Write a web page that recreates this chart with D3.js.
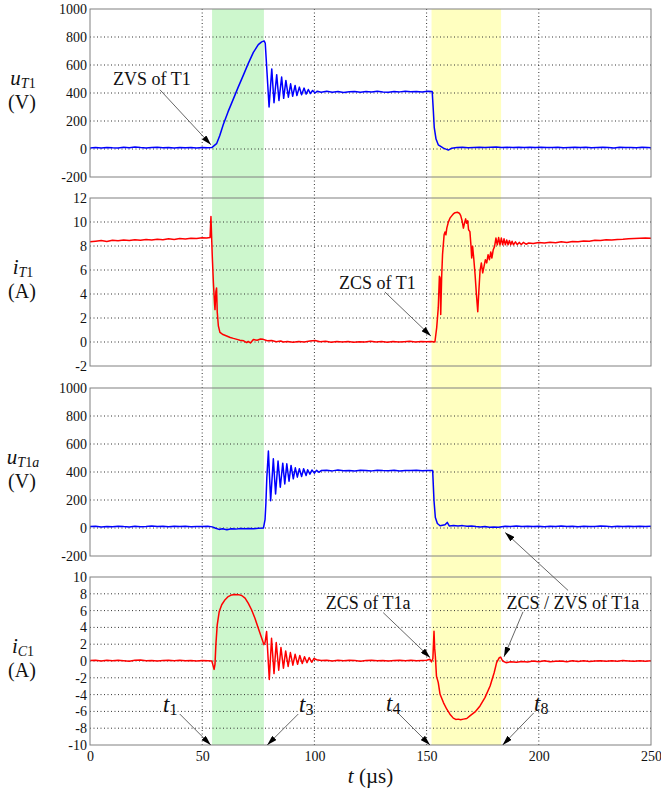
<!DOCTYPE html>
<html>
<head>
<meta charset="utf-8">
<script src="https://cdn.jsdelivr.net/npm/d3@7"></script>
<style>
  body { margin: 0; background: #fff; }
  svg text { font-family: "Liberation Serif", "Times New Roman", Times, "DejaVu Serif", serif; fill: #111; }
</style>
</head>
<body>
<svg id="chart" width="661" height="795" font-family="Liberation Serif, Times New Roman, serif"></svg>
<script>
// ---- tick labels ----
const timeTicks = [0, 50, 100, 150, 200, 250];
const voltTicks = [-200, 0, 200, 400, 600, 800, 1000];
const iT1Ticks = [-2, 0, 2, 4, 6, 8, 10, 12];
const iC1Ticks = [-10, -8, -6, -4, -2, 0, 2, 4, 6, 8, 10];

// ---- switching intervals (µs) ----
const greenBand = [54.4, 77.5];   // t1 .. t3
const yellowBand = [152.2, 183.2]; // t4 .. t8

// ---- measured traces: [t (µs), value] ----
const uT1 = [
  [0,8],[2.5,10],[5,7],[7.5,11],[10,9],[12.5,8],[15,12],[17.5,9],[20,14],[22.5,10],[25,8],[27.5,11],
  [30,12],[32.5,9],[35,10],[37.5,8],[40,11],[42.5,9],[45,10],[47.5,8],[50,11],[52.5,9],[54.3,10],
  [55.2,22],[56.4,38],[57.8,95],[59.4,175],[61.5,265],[63.9,358],[66,440],[68.3,526],[70.5,610],
  [72.8,690],[75,745],[76.5,765],[77.6,772],[78.1,755],
  [79.8,300],[81.0,572],[82.0,330],[83.2,531],[84.2,346],[85.4,514],[86.3,362],[87.3,490],[88.4,370],
  [89.4,466],[90.3,377],[91.4,454],[92.2,382],[93.3,442],[94.3,387],[95.4,435],[96.3,392],[97.3,425],
  [98.2,396],[99.2,418],[100.3,400],[101.3,413],
  [103,406],[105.5,412],[108,406],[110.5,410],[113,404],[115.5,409],[118,411],[120.5,406],[123,410],
  [125.5,407],[128,412],[130.5,408],[133,406],[135.5,410],[138,408],[140.5,413],[143,409],[145.5,411],
  [148,408],[150.5,412],[152.5,410],
  [153.0,275],[153.4,155],[154.2,71],[155.2,30],[157.5,6],[159.7,-8],[161.2,6],[163.5,10],[166,12],
  [168.5,9],[171,11],[173.5,13],[176,10],[178.5,12],[181,14],[183.5,11],[186,12],[188.5,10],[191,13],
  [193.5,11],[196,12],[198.5,10],[201,13],[203.5,11],[206,10],[208.5,12],[211,9],[213.5,11],[216,12],
  [218.5,10],[221,13],[223.5,9],[226,11],[228.5,12],[231,10],[233.5,8],[236,12],[238.5,10],[241,11],
  [243.5,9],[246,12],[248.5,10],[250,9]
];

const iT1 = [
  [0,8.35],[2.5,8.4],[5,8.45],[7.5,8.38],[10,8.48],[12.5,8.44],[15,8.5],[17.5,8.46],[20,8.52],[22.5,8.48],
  [25,8.55],[27.5,8.5],[30,8.56],[32.5,8.52],[35,8.6],[37.5,8.55],[40,8.62],[42.5,8.58],[45,8.65],
  [47.5,8.62],[50,8.68],[52,8.66],[53.5,8.7],
  [53.9,10.45],[54.5,7.1],[55.0,4.9],[55.5,3.2],[55.7,2.7],[56.1,4.2],[56.4,4.5],[56.7,2.5],[57.2,1.35],
  [57.9,0.8],[59,0.65],[60.9,0.5],[62.5,0.38],[63.9,0.3],[65.5,0.22],[66.8,0.15],[68.5,0.1],[69.8,-0.05],
  [70.5,0.05],[71.5,-0.08],[72.8,0.2],[74.5,0.15],[76,0.25],[77.2,0.22],[79,0.1],[81,0.12],[83,0.02],
  [85,0.08],[86.1,0.0],[88,0.05],[90.5,-0.02],[93,0.05],[95.5,0.0],[98,0.08],[100.3,0.12],[102.5,0.02],
  [105,0.06],[107.5,-0.02],[110,0.04],[112.5,0.0],[115,0.05],[117.5,-0.03],[120,0.03],[122.5,0.0],
  [125,0.06],[127.5,0.01],[130,0.04],[132.5,-0.02],[135,0.05],[137.5,0.0],[140,0.03],[142.5,0.06],
  [145,0.01],[147.5,0.04],[150,0.02],[152,0.05],[153.7,0.0],
  [154.5,1.2],[155.2,2.86],[155.7,5.48],[156.0,5.35],[156.3,2.3],[156.7,5.35],[157.1,7.28],[157.8,8.93],
  [158.2,9.16],[158.6,8.93],[159.0,9.49],[159.7,9.99],[160.4,10.32],[161.2,10.51],[161.9,10.67],
  [162.7,10.78],[163.7,10.81],[164.6,10.73],[165.2,10.53],[165.9,10.04],[166.4,9.49],[166.8,9.82],
  [167.4,10.26],[167.8,9.9],[168.3,10.1],[168.7,9.35],[169.3,9.2],[169.8,7.97],[170.1,7.0],[170.5,7.97],
  [171.0,7.0],[171.6,5.62],[172.2,3.96],[172.8,2.53],[173.2,3.96],[173.8,5.9],[174.4,6.59],[175.0,5.76],
  [175.6,6.31],[176.2,6.86],[176.8,6.59],[177.4,7.28],[178.0,6.86],[178.6,7.5],[179.1,7.0],[179.7,7.69],
  [180.3,7.97],[180.9,8.66],[181.5,8.1],[182.1,8.7],[182.7,8.1],[183.3,8.66],[183.9,8.1],[184.5,8.6],
  [185.1,8.1],[185.7,8.5],[186.3,8.1],[186.9,8.45],[187.5,8.1],[188.1,8.4],[188.7,8.1],[189.6,8.35],
  [190.4,8.12],[191.3,8.3],[192.2,8.12],[193.1,8.3],[194.3,8.15],[195.5,8.25],
  [197.5,8.2],[200,8.3],[202.5,8.25],[205,8.32],[207.5,8.28],[210,8.35],[212.5,8.3],[215,8.38],
  [217.5,8.35],[220,8.42],[222.5,8.4],[225,8.48],[227.5,8.46],[230,8.52],[232.5,8.5],[235,8.55],
  [237.5,8.56],[240,8.6],[242.5,8.62],[245,8.64],[247.5,8.66],[250,8.64]
];

const uT1a = [
  [0,10],[2.5,12],[5,8],[7.5,11],[10,9],[12.5,13],[15,10],[17.5,8],[20,12],[22.5,9],[25,11],[27.5,14],
  [30,10],[32.5,12],[35,9],[37.5,13],[40,10],[42.5,12],[45,9],[47.5,11],[50,10],[52.5,12],[54.5,8],
  [56,-2],[57.5,-10],[59,-5],[61,-12],[63,-6],[65,-8],[67,-4],[69,-6],[71,-3],[73,-5],[75,-1],[77.3,0],
  [78.0,60],[78.4,180],[78.8,360],[79.5,550],[80.5,195],[81.7,495],[82.7,243],[83.8,478],[84.8,291],
  [85.9,463],[86.8,315],[87.7,459],[88.7,334],[89.6,447],[90.6,351],[91.5,430],[92.4,363],[93.3,423],
  [94.3,368],[95.2,423],[96.3,375],[97.0,416],[98.0,385],[98.9,414],[100.0,392],[101.0,412],[102.0,398],
  [103,410],[105.5,412],[108,408],[110.5,414],[113,409],[115.5,411],[118,407],[120.5,412],[123,410],
  [125.5,408],[128,413],[130.5,410],[133,409],[135.5,412],[138,408],[140.5,411],[143,410],[145.5,413],
  [148,409],[150.5,411],[152.7,410],
  [153.3,195],[153.9,75],[154.8,32],[156,16],[158.2,23],[159.2,40],[160.1,15],[162,18],[164,14],[166,17],
  [168,12],[170,15],[172,10],[174,8],[176,11],[178,6],[180,7],[182,5],[183.5,9],[185,12],[187.5,10],
  [190,14],[192.5,11],[195,13],[197.5,10],[200,12],[202.5,9],[205,13],[207.5,11],[210,14],[212.5,10],
  [215,12],[217.5,9],[220,13],[222.5,11],[225,10],[227.5,14],[230,12],[232.5,9],[235,13],[237.5,11],
  [240,12],[242.5,10],[245,13],[247.5,11],[250,12]
];

const iC1 = [
  [0,0.05],[2.5,0.1],[5,0.0],[7.5,0.08],[10,0.02],[12.5,0.1],[15,0.04],[17.5,-0.02],[20,0.08],[22.5,0.12],
  [25,0.03],[27.5,0.06],[30,0.0],[32.5,0.05],[35,0.1],[37.5,0.04],[40,0.08],[42.5,0.02],[45,0.06],
  [47.5,0.0],[50,0.05],[52.5,0.03],[54.3,0.0],
  [54.7,-0.4],[55.3,-1.0],[55.7,-0.4],[56.1,1.95],[56.7,4.3],[57.6,5.9],[58.7,6.7],[60.2,7.3],
  [61.6,7.67],[63.1,7.87],[64.6,7.93],[66.1,7.9],[67.6,7.8],[69.1,7.48],[70.5,6.88],[72.0,6.1],
  [73.5,5.1],[75.0,3.9],[76.5,2.75],[77.5,1.95],[78.0,2.2],
  [78.7,3.5],[79.9,-2.2],[80.9,2.7],[82.0,-1.5],[83.0,2.2],[84.1,-1.1],[85.1,1.6],[86.2,-0.85],
  [87.2,1.2],[88.3,-0.65],[89.3,1.0],[90.4,-0.5],[91.4,0.8],[92.5,-0.4],[93.5,0.65],[94.6,-0.3],
  [95.6,0.5],[96.7,-0.2],[97.7,0.4],[98.8,-0.15],[99.8,0.3],
  [101,0.15],[103,0.05],[105.5,0.1],[108,0.0],[110.5,0.08],[113,0.03],[115.5,0.1],[118,0.05],[120.5,-0.02],
  [123,0.06],[125.5,0.1],[128,0.02],[130.5,0.07],[133,0.0],[135.5,0.05],[138,0.1],[140.5,0.04],[143,0.08],
  [145.5,0.02],[148,0.06],[150,0.1],[151.5,0.2],[152.2,-0.1],[152.8,0.3],
  [153.3,3.53],[153.6,1.5],[153.9,0.57],[154.4,-1.8],[155.2,-2.58],[156.0,-3.96],[157.5,-4.95],
  [159.0,-5.74],[160.4,-6.33],[161.9,-6.8],[163,-6.95],[164.1,-6.92],[165.2,-7.0],[166.4,-6.92],
  [167.9,-6.84],[169.3,-6.53],[171.6,-6.06],[173.8,-5.35],[176.0,-4.36],[178.3,-2.98],[180.1,-1.4],
  [181.2,-0.2],[182.4,0.39],[183.0,0.47],[183.9,0.0],[185.4,-0.2],[187.5,-0.1],[190,-0.15],[192.5,-0.05],
  [195,-0.12],[197.5,0.0],[200,-0.08],[202.5,0.02],[205,-0.1],[207.5,-0.03],[210,0.0],[212.5,-0.08],
  [215,0.02],[217.5,-0.05],[220,0.03],[222.5,-0.06],[225,0.0],[227.5,0.04],[230,-0.04],[232.5,0.02],
  [235,-0.02],[237.5,0.05],[240,0.0],[242.5,-0.04],[245,0.03],[247.5,-0.02],[250,0.02]
];

// ---- panel layout ----
const plotLeft = 90, plotRight = 651;
const panelTop = [9, 198, 388, 577];
const panelH = 168;
const BLUE = "#0000ff", RED = "#ff0000";
const SERIF = "Liberation Serif, Times New Roman, serif";

const panels = [
  { data: uT1,  domain: [-200, 1000], ticks: voltTicks, color: BLUE,
    name: [["u", true, false], ["T", true, true], ["1", false, true]], unit: "(V)" },
  { data: iT1,  domain: [-2, 12],     ticks: iT1Ticks,  color: RED,
    name: [["i", true, false], ["T", true, true], ["1", false, true]], unit: "(A)" },
  { data: uT1a, domain: [-200, 1000], ticks: voltTicks, color: BLUE,
    name: [["u", true, false], ["T", true, true], ["1", false, true], ["a", true, true]], unit: "(V)" },
  { data: iC1,  domain: [-10, 10],    ticks: iC1Ticks,  color: RED,
    name: [["i", true, false], ["C", true, true], ["1", false, true]], unit: "(A)" }
];

const svg = d3.select("#chart");
const x = d3.scaleLinear().domain([0, 250]).range([plotLeft, plotRight]);
const yScales = panels.map((p, i) =>
  d3.scaleLinear().domain(p.domain).range([panelTop[i] + panelH, panelTop[i]]));

const figTop = panelTop[0], figBottom = panelTop[3] + panelH;

// highlighted switching intervals spanning all panels
[[greenBand, "#cdf7cd"], [yellowBand, "#ffffc0"]].forEach(([b, c]) => {
  svg.append("rect")
    .attr("x", x(b[0])).attr("width", x(b[1]) - x(b[0]))
    .attr("y", figTop).attr("height", figBottom - figTop)
    .attr("fill", c);
});

// vertical dotted grid, continuous through the whole figure
svg.append("g").selectAll("line")
  .data(timeTicks.slice(1, -1)).join("line")
  .attr("x1", d => x(d)).attr("x2", d => x(d))
  .attr("y1", figTop).attr("y2", figBottom)
  .attr("stroke", "#333").attr("stroke-width", 1)
  .attr("stroke-dasharray", "1 2.5");

panels.forEach((p, i) => {
  const y = yScales[i];
  const top = panelTop[i], bot = top + panelH;
  const g = svg.append("g");

  // horizontal dotted grid
  g.selectAll("line.grid")
    .data(p.ticks.slice(1, -1)).join("line")
    .attr("class", "grid")
    .attr("x1", plotLeft).attr("x2", plotRight)
    .attr("y1", d => y(d)).attr("y2", d => y(d))
    .attr("stroke", "#333").attr("stroke-width", 1)
    .attr("stroke-dasharray", "1 2.5");

  // trace
  const line = d3.line().x(d => x(d[0])).y(d => y(d[1]));
  g.append("path").datum(p.data)
    .attr("d", line)
    .attr("fill", "none")
    .attr("stroke", p.color)
    .attr("stroke-width", 1.5)
    .attr("stroke-linejoin", "round");

  // frame
  g.append("rect")
    .attr("x", plotLeft).attr("y", top)
    .attr("width", plotRight - plotLeft).attr("height", panelH)
    .attr("fill", "none").attr("stroke", "#808080").attr("stroke-width", 1);

  // y tick labels
  g.append("g")
    .attr("transform", `translate(${plotLeft},0)`)
    .call(d3.axisLeft(y).tickValues(p.ticks).tickSize(0).tickPadding(3).tickFormat(d => String(d)))
    .call(a => a.select(".domain").remove())
    .attr("font-family", SERIF)
    .attr("font-size", 14);

  // quantity name and unit
  const cy = (top + bot) / 2;
  const nm = g.append("text")
    .attr("x", 23).attr("y", cy - 8)
    .attr("text-anchor", "middle").attr("font-size", 21);
  let sub = false;
  p.name.forEach(([s, it, isSub]) => {
    const t = nm.append("tspan").text(s)
      .attr("font-style", it ? "italic" : "normal")
      .attr("font-size", isSub ? 14 : 21);
    if (isSub && !sub) t.attr("dy", 3);
    sub = isSub;
  });
  g.append("text")
    .attr("x", 22).attr("y", cy + 16)
    .attr("text-anchor", "middle").attr("font-size", 20)
    .text(p.unit);
});

// x tick labels under the last panel
svg.append("g")
  .attr("transform", `translate(0,${figBottom})`)
  .call(d3.axisBottom(x).tickValues(timeTicks).tickSize(0).tickPadding(6).tickFormat(d => String(d)))
  .call(a => a.select(".domain").remove())
  .attr("font-family", SERIF)
  .attr("font-size", 14);

// x axis title
const xt = svg.append("text")
  .attr("x", (plotLeft + plotRight) / 2).attr("y", 783)
  .attr("text-anchor", "middle").attr("font-size", 21);
xt.append("tspan").attr("font-style", "italic").text("t");
xt.append("tspan").text(" (\u00b5s)");

// ---- annotations ----
const defs = svg.append("defs");
defs.append("marker")
  .attr("id", "head").attr("viewBox", "0 0 10 6")
  .attr("refX", 10).attr("refY", 3)
  .attr("markerWidth", 10).attr("markerHeight", 6)
  .attr("markerUnits", "userSpaceOnUse").attr("orient", "auto")
  .append("path").attr("d", "M0,0 L10,3 L0,6 Z").attr("fill", "#000");

// arrows: tip at (t, value) on a panel, tail offset in px
const arrows = [
  { panel: 0, t: 53.9,  v: 30,   dx: -51, dy: -55 },
  { panel: 1, t: 151.9, v: 0.5,  dx: -46, dy: -44 },
  { panel: 2, t: 185.0, v: -32,  dx: 63,  dy: 58 },
  { panel: 3, t: 151.6, v: 0.4,  dx: -47, dy: -45 },
  { panel: 3, t: 184.5, v: 0.5,  dx: 19,  dy: -45 },
  { panel: 3, t: 53.8,  v: -10,  dx: -31, dy: -31 },
  { panel: 3, t: 79.0,  v: -10,  dx: 31,  dy: -31 },
  { panel: 3, t: 151.5, v: -10,  dx: -32, dy: -32 },
  { panel: 3, t: 183.9, v: -10,  dx: 31,  dy: -32 }
];
svg.append("g").selectAll("line")
  .data(arrows).join("line")
  .attr("x1", d => x(d.t) + d.dx)
  .attr("y1", d => yScales[d.panel](d.v) + d.dy)
  .attr("x2", d => x(d.t))
  .attr("y2", d => yScales[d.panel](d.v))
  .attr("stroke", "#555").attr("stroke-width", 0.9)
  .attr("marker-end", "url(#head)");

const notes = [
  { text: "ZVS of T1",        x: 113,   y: 85,  anchor: "start" },
  { text: "ZCS of T1",        x: 339,   y: 289, anchor: "start" },
  { text: "ZCS of T1a",       x: 410.5, y: 609, anchor: "end" },
  { text: "ZCS / ZVS of T1a", x: 506.5, y: 609, anchor: "start" }
];
svg.append("g").selectAll("text")
  .data(notes).join("text")
  .attr("x", d => d.x).attr("y", d => d.y)
  .attr("text-anchor", d => d.anchor)
  .attr("font-size", 18)
  .text(d => d.text);

const instants = [
  { sub: "1", x: 163, y: 712 },
  { sub: "3", x: 299, y: 712 },
  { sub: "4", x: 386, y: 711 },
  { sub: "8", x: 534, y: 711 }
];
instants.forEach(d => {
  const t = svg.append("text").attr("x", d.x).attr("y", d.y).attr("font-size", 23);
  t.append("tspan").attr("font-style", "italic").text("t");
  t.append("tspan").attr("font-size", 16).attr("dy", 3).text(d.sub);
});
</script>
</body>
</html>
